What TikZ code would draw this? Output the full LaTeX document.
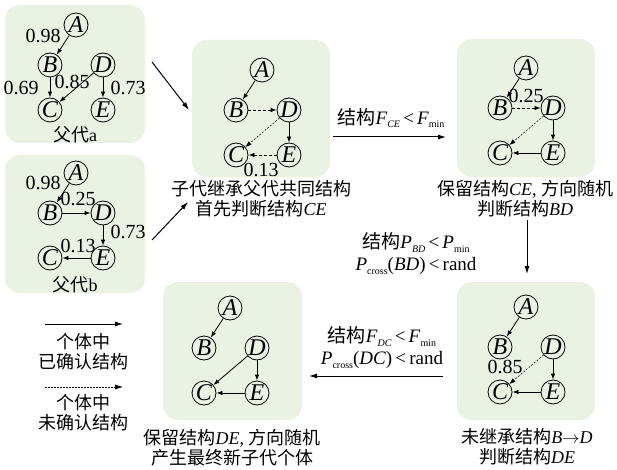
\documentclass[tikz,border=0pt]{standalone}
\usepackage{fontspec}
\setmainfont{Liberation Serif}
\newfontfamily\cjk{Noto Sans CJK SC}
\usetikzlibrary{arrows.meta}
\definecolor{boxgreen}{HTML}{EAF2E3}
\newcommand{\lo}[1]{\raisebox{-0.4ex}{\fontsize{10}{10}\selectfont #1}}
\newcommand{\graphnodes}[3]{%
  \node[gn] (#1A) at (#2+26,#3-40) {A};
  \node[gn] (#1B) at (#2,#3) {B};
  \node[gn] (#1D) at (#2+53,#3) {D};
  \node[gn] (#1C) at (#2,#3+45) {C};
  \node[gn] (#1E) at (#2+53,#3+45) {E};}
\begin{document}
\begin{tikzpicture}[x=1pt,y=-1pt,
  gn/.style={circle,draw,line width=0.8pt,inner sep=0pt,minimum size=24pt,font=\fontsize{24}{24}\selectfont\itshape},
  bx/.style={fill=boxgreen,rounded corners=15pt,inner sep=0pt},
  ce/.style={-{Latex[length=6pt,width=4.5pt]},line width=0.8pt},
  ue/.style={ce,dash pattern=on 3pt off 2pt},
  de/.style={ce,line width=0.5pt,dash pattern=on 2pt off 1.5pt},
  bigarr/.style={-{Latex[length=8pt,width=5pt]},line width=1pt},
  lbl/.style={inner sep=0pt,font=\fontsize{20}{20}\selectfont},
  txt/.style={inner sep=0pt,align=center,font=\fontsize{18}{20}\selectfont},
  ltxt/.style={inner sep=0pt,align=center,font=\fontsize{19}{22}\selectfont}
]
\useasboundingbox (0,0) rectangle (617,470);
% boxes
\node[bx,minimum width=140pt,minimum height=138pt] (pa) at (75,74) {};
\node[bx,minimum width=140pt,minimum height=138pt] (pb) at (75,224) {};
\node[bx,minimum width=138pt,minimum height=137pt] (c1) at (261,108.5) {};
\node[bx,minimum width=138pt,minimum height=138pt] (c2) at (526,108) {};
\node[bx,minimum width=138pt,minimum height=138pt] (c3) at (526,351) {};
\node[bx,minimum width=139pt,minimum height=138pt] (c4) at (232.5,351) {};
% graphs
\graphnodes{a}{50}{65}
\graphnodes{b}{50}{213}
\graphnodes{p}{236}{110}
\graphnodes{q}{500}{108}
\graphnodes{r}{500}{347}
\graphnodes{s}{204}{348}
% parent a
\draw[ce] (aA) -- (aB); \draw[ce] (aB) -- (aC); \draw[ce] (aD) -- (aC); \draw[ce] (aD) -- (aE);
\node[lbl] (la1) at (43,36) {0.98};
\node[lbl] (la2) at (21,88) {0.69};
\node[lbl] (la3) at (72,82) {0.85};
\node[lbl] (la4) at (128,88) {0.73};
\node[txt] (ta) at (75,135) {{\cjk 父代}a};
% parent b
\draw[ce] (bA) -- (bB); \draw[ce] (bB) -- (bD); \draw[ce] (bD) -- (bE); \draw[ce] (bE) -- (bC);
\node[lbl] (lb1) at (43,183) {0.98};
\node[lbl] (lb2) at (78,199) {0.25};
\node[lbl] (lb3) at (128,232) {0.73};
\node[lbl] (lb4) at (78,246) {0.13};
\node[txt] (tb) at (75,285) {{\cjk 父代}b};
% child 1
\draw[ce] (pA) -- (pB); \draw[ue] (pB) -- (pD); \draw[de] (pD) -- (pC); \draw[ce] (pD) -- (pE); \draw[ue] (pE) -- (pC);
\node[lbl] (lp1) at (261,170) {0.13};
\node[txt] (tp) at (261,199) {{\cjk 子代继承父代共同结构}\\{\cjk 首先判断结构}\textit{CE}};
% child 2
\draw[ce] (qA) -- (qB); \draw[ue] (qB) -- (qD); \draw[de] (qD) -- (qC); \draw[ce] (qD) -- (qE); \draw[ce] (qE) -- (qC);
\node[lbl] (lq1) at (526,96) {0.25};
\node[txt] (tq) at (525,199) {{\cjk 保留结构}\textit{CE}, {\cjk 方向随机}\\{\cjk 判断结构}\textit{BD}};
% child 3
\draw[ce] (rA) -- (rB); \draw[de] (rD) -- (rC); \draw[ce] (rD) -- (rE); \draw[ce] (rE) -- (rC);
\node[lbl] (lr1) at (505,367) {0.85};
\node[txt] (tr) at (527,447) {{\cjk 未继承结构}\textit{B}$\rightarrow$\textit{D}\\{\cjk 判断结构}\textit{DE}};
% child 4
\draw[ce] (sA) -- (sB); \draw[ce] (sD) -- (sC); \draw[ce] (sD) -- (sE); \draw[ce] (sE) -- (sC);
\node[txt] (ts) at (232,448) {{\cjk 保留结构}\textit{DE}, {\cjk 方向随机}\\{\cjk 产生最终新子代个体}};
% process arrows
\coordinate (a1s) at (152,62); \coordinate (a1e) at (189,110);
\coordinate (a2s) at (152,240); \coordinate (a2e) at (188,202);
\draw[bigarr] (a1s) -- (a1e);
\draw[bigarr] (a2s) -- (a2e);
\coordinate (a3s) at (333,137); \coordinate (a3e) at (446,137);
\draw[bigarr] (a3s) -- (a3e);
\node[ltxt] (l3) at (391,118) {{\cjk 结构}\textit{F}\lo{\textit{CE}}\,<\,\textit{F}\lo{min}};
\coordinate (a4s) at (527,220); \coordinate (a4e) at (527,274);
\draw[bigarr] (a4s) -- (a4e);
\node[ltxt] (l4) at (416,254) {{\cjk 结构}\textit{P}\lo{\textit{BD}}\,<\,\textit{P}\lo{min}\\\textit{P}\lo{cross}(\textit{BD})\,<\,rand};
\coordinate (a5s) at (443,376); \coordinate (a5e) at (309,376);
\draw[bigarr] (a5s) -- (a5e);
\node[ltxt] (l5) at (382,348) {{\cjk 结构}\textit{F}\lo{\textit{DC}}\,<\,\textit{F}\lo{min}\\\textit{P}\lo{cross}(\textit{DC})\,<\,rand};
% legend
\coordinate (g1s) at (45,324); \coordinate (g1e) at (123,324);
\draw[bigarr,line width=0.8pt] (g1s) -- (g1e);
\node[txt] (g1t) at (83,352) {{\cjk 个体中}\\{\cjk 已确认结构}};
\coordinate (g2s) at (45,387); \coordinate (g2e) at (123,387);
\draw[bigarr,line width=0.6pt,dash pattern=on 2pt off 1pt] (g2s) -- (g2e);
\node[txt] (g2t) at (83,413) {{\cjk 个体中}\\{\cjk 未确认结构}};
\end{tikzpicture}
\end{document}
